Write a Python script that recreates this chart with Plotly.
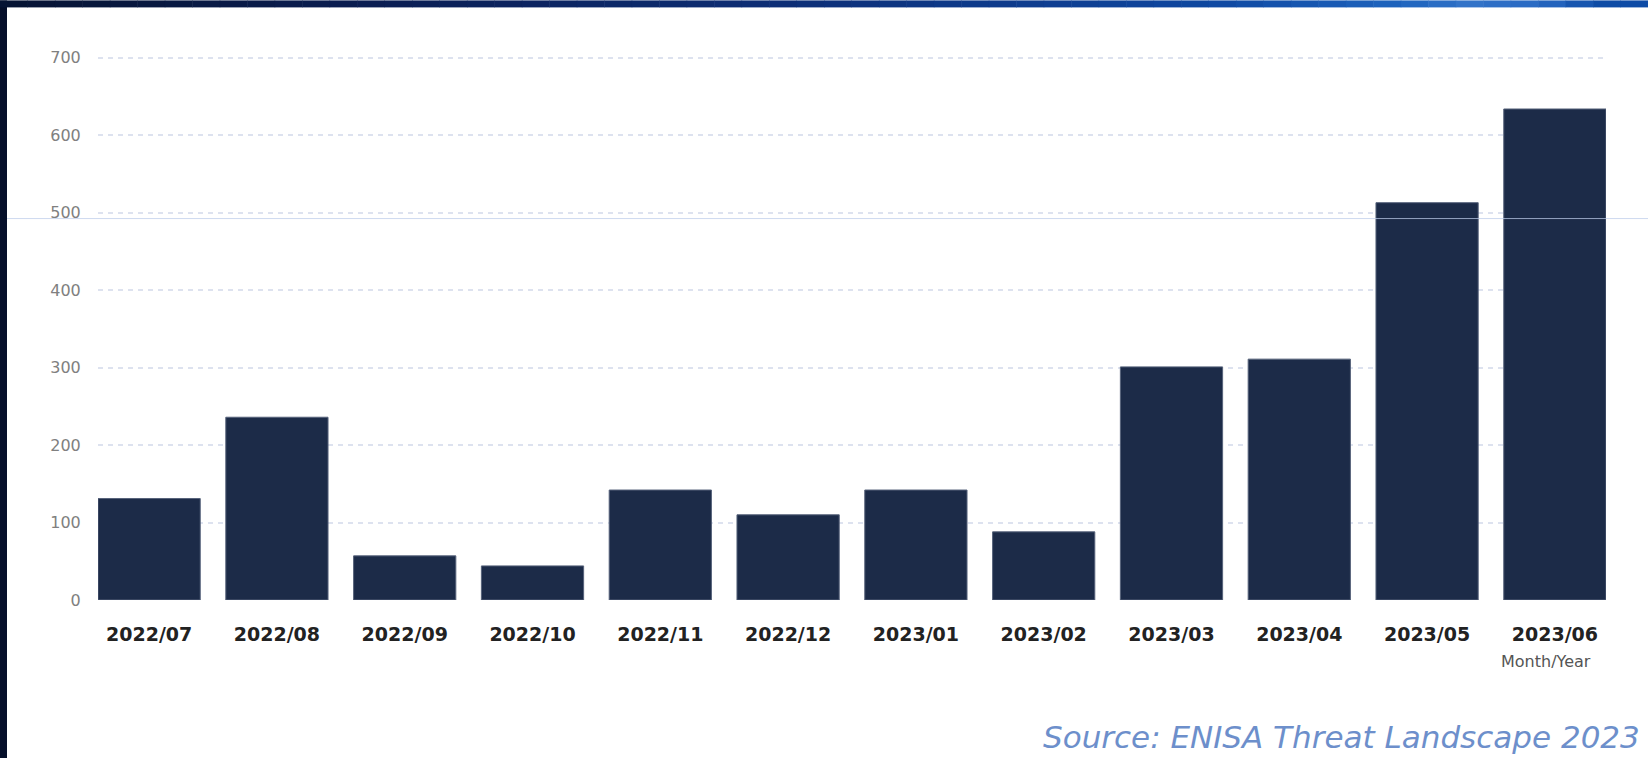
import plotly.graph_objects as go

# ---- data ----
months = ["2022/07", "2022/08", "2022/09", "2022/10", "2022/11", "2022/12",
          "2023/01", "2023/02", "2023/03", "2023/04", "2023/05", "2023/06"]
counts = [131, 236, 57, 44, 142, 110, 142, 88, 301, 311, 513, 634]
y_ticks = [0, 100, 200, 300, 400, 500, 600, 700]
x_title = "Month/Year"
source_text = "Source: ENISA Threat Landscape 2023"

# ---- layout geometry (pixels) ----
W, H = 1648, 758
L, R = 98, 42
PLOT_X0, PLOT_X1 = L, W - R
Y_ZERO = 600.0
PX_PER_UNIT = (600.0 - 57.5) / 700.0
Y_MAX = 705
T = Y_ZERO - Y_MAX * PX_PER_UNIT
B = H - Y_ZERO
PLOT_H = Y_ZERO - T
PLOT_W = PLOT_X1 - PLOT_X0


def px_x(px):
    return (px - PLOT_X0) / PLOT_W


def px_y(py):
    return (Y_ZERO - py) / PLOT_H


fig = go.Figure()
fig.add_trace(go.Bar(
    x=months, y=counts,
    marker=dict(color="#1c2b48", line=dict(color="#56627a", width=1)),
    width=0.8,
    hoverinfo="x+y",
))

shapes = []
# faint horizontal artifact line
shapes.append(dict(type="line", xref="paper", yref="paper",
                   x0=px_x(7), x1=px_x(W), y0=px_y(218.3), y1=px_y(218.3),
                   line=dict(color="rgba(190,205,235,0.75)", width=1), layer="above"))
# left dark strip
shapes.append(dict(type="rect", xref="paper", yref="paper",
                   x0=px_x(0), x1=px_x(7), y0=px_y(H), y1=px_y(0),
                   fillcolor="#050f2a", line=dict(width=0), layer="above"))
# top gradient strip
stops = [(0, (6, 20, 51)), (400, (11, 31, 85)), (800, (13, 47, 120)),
         (1200, (14, 71, 160)), (1400, (30, 100, 190)), (1470, (50, 115, 200)),
         (1540, (40, 105, 195)), (1600, (14, 76, 166)), (1648, (12, 74, 166))]
n = 60
for i in range(n):
    xa = W * i / n
    xb = W * (i + 1) / n
    xm = (xa + xb) / 2
    for j in range(len(stops) - 1):
        if stops[j][0] <= xm <= stops[j + 1][0]:
            t = (xm - stops[j][0]) / (stops[j + 1][0] - stops[j][0])
            c = [round(stops[j][1][k] + t * (stops[j + 1][1][k] - stops[j][1][k])) for k in range(3)]
            break
    shapes.append(dict(type="rect", xref="paper", yref="paper",
                       x0=px_x(xa), x1=px_x(xb + 0.5), y0=px_y(7), y1=px_y(0),
                       fillcolor="rgb(%d,%d,%d)" % tuple(c), line=dict(width=0), layer="above"))

fig.update_layout(
    width=W, height=H,
    margin=dict(l=L, r=R, t=T, b=B, pad=0),
    paper_bgcolor="white", plot_bgcolor="white",
    showlegend=False,
    bargap=0.2,
    shapes=shapes,
    annotations=[
        dict(text=x_title, xref="paper", yref="paper",
             x=px_x(1593), y=px_y(662), xanchor="right", yanchor="middle",
             showarrow=False, font=dict(family="DejaVu Sans", size=16, color="#555555")),
        dict(text="<i>" + source_text + "</i>", xref="paper", yref="paper",
             x=px_x(1642), y=px_y(737), xanchor="right", yanchor="middle",
             showarrow=False, font=dict(family="DejaVu Sans", size=31, color="#6d8fcb")),
    ],
    xaxis=dict(
        type="category",
        range=[-0.4, 11.4],
        showgrid=False, zeroline=False, showline=False,
        ticks="outside", ticklen=17, tickcolor="rgba(0,0,0,0)",
        tickfont=dict(family="DejaVu Sans", size=19, color="#222222", weight="bold"),
    ),
    yaxis=dict(
        range=[0, Y_MAX],
        tickvals=y_ticks,
        showgrid=True, gridcolor="#dde2ef", gridwidth=1.5, griddash="5px,5px",
        zeroline=False, showline=False,
        ticks="outside", ticklen=13, tickcolor="rgba(0,0,0,0)",
        tickfont=dict(family="DejaVu Sans", size=16, color="#808080"),
    ),
)

fig.write_html(
    "out.html",
    config={"displayModeBar": False},
    post_script="document.body.style.margin='0';document.body.style.overflow='hidden';",
)
